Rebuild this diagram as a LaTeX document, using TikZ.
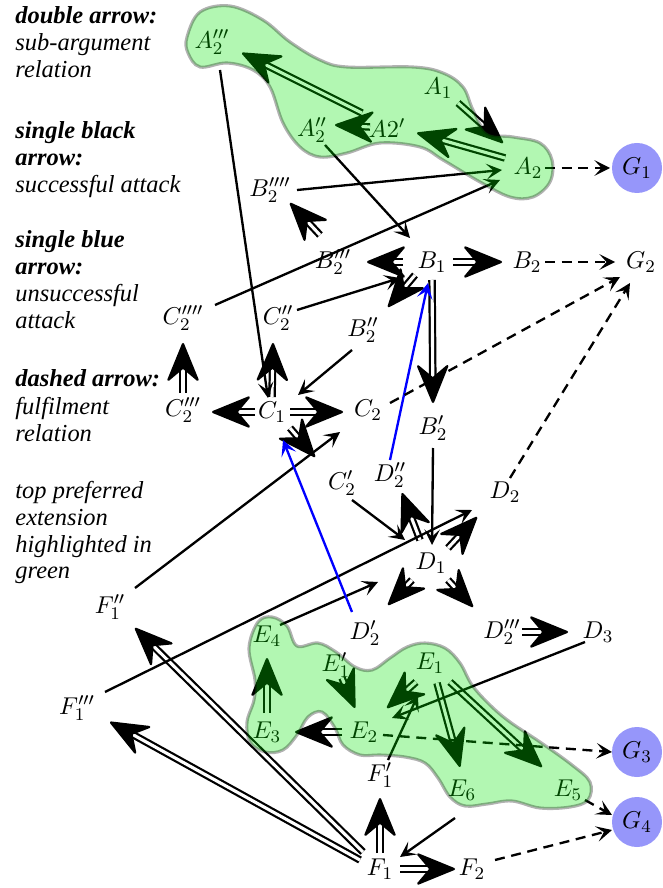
\documentclass[tikz,border=0pt]{standalone}
\usepackage{fontspec}
\newfontfamily\legfont{Liberation Serif}
\usetikzlibrary{arrows.meta,calc}
\definecolor{gcirc}{RGB}{150,150,250}
\definecolor{extgreen}{RGB}{0,230,0}
\definecolor{failblue}{RGB}{0,0,255}
\tikzset{
  lab/.style={inner sep=1pt, font=\fontsize{11}{13}\selectfont},
  goal/.style={circle, fill=gcirc, minimum size=22.5pt, inner sep=0pt, font=\fontsize{11}{13}\selectfont},
  att/.style={line width=1.05pt, -{Stealth[length=7pt,width=7pt,inset=3.2pt]}},
  fail/.style={att, color=failblue},
  ful/.style={att, dash pattern=on 4.5pt off 3pt},
  sub/.style={double, line width=1pt, double distance=1.4pt, -{Stealth[length=19pt,width=15.5pt,inset=6.5pt,round]}},
  ext/.style={fill=extgreen, fill opacity=0.3, draw=black, draw opacity=0.3, line width=1.4pt},
  leg/.style={font=\legfont\fontsize{11}{12}\selectfont\itshape, inner sep=0pt, anchor=base west},
}
\newcommand\conn[5]{\draw[#1] ($(#2)+(#3)$) -- ($(#4)+(#5)$);}
\begin{document}
\begin{tikzpicture}[x=0.45pt,y=-0.45pt]
\useasboundingbox (0,0) rectangle (663,888);
% legend
\node[leg] (leg1) at (15,24) {\bfseries double arrow:};
\node[leg] (leg2) at (15,51) {sub-argument};
\node[leg] (leg3) at (15,78) {relation};
\node[leg] (leg4) at (15,139) {\bfseries single black};
\node[leg] (leg5) at (15,166) {\bfseries arrow:};
\node[leg] (leg6) at (15,193) {successful attack};
\node[leg] (leg7) at (15,248) {\bfseries single blue};
\node[leg] (leg8) at (15,275) {\bfseries arrow:};
\node[leg] (leg9) at (15,302) {unsuccessful};
\node[leg] (leg10) at (15,329) {attack};
\node[leg] (leg11) at (15,387) {\bfseries dashed arrow:};
\node[leg] (leg12) at (15,414) {fulfilment};
\node[leg] (leg13) at (15,441) {relation};
\node[leg] (leg14) at (15,498) {top preferred};
\node[leg] (leg15) at (15,525) {extension};
\node[leg] (leg16) at (15,552) {highlighted in};
\node[leg] (leg17) at (15,578) {green};
% nodes
\node[lab] (A2ppp) at (212,42) {$A_2'''$};
\node[lab] (A1) at (438,88) {$A_1$};
\node[lab] (A2pp) at (312,130) {$A_2''$};
\node[lab] (A2p) at (387,128) {$A2'$};
\node[lab] (A2) at (528,168) {$A_2$};
\node[goal] (G1) at (637,168) {$G_1$};
\node[lab] (B2pppp) at (270,190) {$B_2''''$};
\node[lab] (B2ppp) at (333,262) {$B_2'''$};
\node[lab] (B1) at (432,262) {$B_1$};
\node[lab] (B2) at (527,262) {$B_2$};
\node[lab] (G2) at (641,262) {$G_2$};
\node[lab] (C2pppp) at (183,318) {$C_2''''$};
\node[lab] (C2pp) at (278,318) {$C_2''$};
\node[lab] (B2pp) at (363,330) {$B_2''$};
\node[lab] (C2ppp) at (183,410) {$C_2'''$};
\node[lab] (C1) at (272,412) {$C_1$};
\node[lab] (C2) at (368,410) {$C_2$};
\node[lab] (B2p) at (433,428) {$B_2'$};
\node[lab] (D2pp) at (390,475) {$D_2''$};
\node[lab] (C2p) at (342,483) {$C_2'$};
\node[lab] (D2) at (505,492) {$D_2$};
\node[lab] (D1) at (431,563) {$D_1$};
\node[lab] (F1pp) at (110,607) {$F_1''$};
\node[lab] (D2p) at (365,633) {$D_2'$};
\node[lab] (D2ppp) at (502,632) {$D_2'''$};
\node[lab] (D3) at (598,632) {$D_3$};
\node[lab] (E4) at (267,636) {$E_4$};
\node[lab] (E1p) at (336,665) {$E_1'$};
\node[lab] (E1) at (430,663) {$E_1$};
\node[lab] (F1ppp) at (77,708) {$F_1'''$};
\node[lab] (E3) at (267,732) {$E_3$};
\node[lab] (E2) at (364,732) {$E_2$};
\node[lab] (F1p) at (380,775) {$F_1'$};
\node[lab] (E6) at (462,790) {$E_6$};
\node[lab] (E5) at (568,790) {$E_5$};
\node[goal] (G3) at (637,752) {$G_3$};
\node[goal] (G4) at (637,822) {$G_4$};
\node[lab] (F1) at (380,869) {$F_1$};
\node[lab] (F2) at (472,869) {$F_2$};
% sub-argument relations
\conn{sub}{A2p}{-25,-15}{A2ppp}{30,11}
\conn{sub}{A2p}{-17,-1}{A2pp}{23,-5}
\conn{sub}{A2}{-23,-10}{A2p}{30,5}
\conn{sub}{A1}{20,15}{A2}{-25,-25}
\conn{sub}{B2ppp}{-13,-27}{B2pppp}{20,13}
\conn{sub}{B1}{-29,0}{B2ppp}{34,0}
\conn{sub}{B1}{-17,13}{B2pp}{25,-23}
\conn{sub}{B1}{21,0}{B2}{-25,0}
\conn{sub}{B1}{0,18}{B2p}{0,-25}
\conn{sub}{C2ppp}{0,-17}{C2pppp}{0,25}
\conn{sub}{C1}{-17,0}{C2ppp}{29,2}
\conn{sub}{C1}{18,0}{C2}{-25,2}
\conn{sub}{C1}{0,-15}{C2pp}{-5,25}
\conn{sub}{C1}{18,16}{C2p}{-27,-26}
\conn{sub}{D1}{-11,-23}{D2pp}{12,18}
\conn{sub}{D1}{17,-15}{D2}{-28,25}
\conn{sub}{D1}{-19,17}{D2p}{23,-28}
\conn{sub}{D1}{17,17}{D2ppp}{-29,-25}
\conn{sub}{D2ppp}{20,0}{D3}{-30,0}
\conn{sub}{E1}{-14,19}{E2}{23,-24}
\conn{sub}{E1p}{6,13}{E2}{-9,-24}
\conn{sub}{E2}{-22,0}{E3}{28,0}
\conn{sub}{E3}{0,-19}{E4}{0,22}
\conn{sub}{E1}{7,20}{E6}{-2,-23}
\conn{sub}{E1}{20,19}{E5}{-26,-23}
\conn{sub}{F1}{0,-16}{F1p}{0,23}
\conn{sub}{F1}{20,0}{F2}{-17,0}
\conn{sub}{F1}{-17,-17}{F1pp}{25,21}
\conn{sub}{F1}{-20,-9}{F1ppp}{33,14}
% successful attacks
\conn{att}{A2ppp}{8,28}{C1}{-4,-14}
\conn{att}{A2pp}{13,15}{B1}{-22,-24}
\conn{att}{B2pppp}{27,0}{A2}{-26,2}
\conn{att}{C2pppp}{32,-13}{A2}{-28,12}
\conn{att}{C2pp}{19,-8}{B1}{-32,16}
\conn{att}{B2pp}{-11,20}{C1}{26,-17}
\conn{att}{F1pp}{25,-19}{C2}{-28,22}
\conn{att}{C2p}{10,17}{D1}{-26,-23}
\conn{att}{B2p}{0,20}{D1}{1,-18}
\conn{att}{F1ppp}{28,-16}{D2}{-33,18}
\conn{att}{E4}{13,-11}{D1}{-53,19}
\conn{att}{D3}{-13,10}{E2}{28,-14}
\conn{att}{F1p}{8,-15}{E1}{-12,32}
\conn{att}{E6}{-7,28}{F1}{20,-12}
% unsuccessful attacks
\conn{fail}{D2pp}{0,-15}{B1}{-4,21}
\conn{fail}{D2p}{-13,-21}{C1}{11,28}
% fulfilment
\conn{ful}{A2}{17,0}{G1}{-27,0}
\conn{ful}{B2}{18,0}{G2}{-26,0}
\conn{ful}{C2}{22,-7}{G2}{-21,15}
\conn{ful}{D2}{5,-14}{G2}{-11,21}
\conn{ful}{E2}{19,3}{G3}{-25,0}
\conn{ful}{E5}{17,10}{G4}{-25,-7}
\conn{ful}{F2}{23,-9}{G4}{-25,8}
% preferred extension highlight
\draw[ext] plot[smooth cycle, tension=0.6] coordinates {(187,37) (200,12) (230,6) (263,20) (290,42) (320,60) (347,67) (413,67) (443,73) (463,87) (473,110) (487,133) (513,137) (540,143) (552,160) (550,182) (533,197) (510,197) (480,182) (443,160) (420,147) (380,143) (347,153) (320,157) (300,147) (283,123) (270,87) (253,70) (227,63) (200,67) (188,53)};
\draw[ext] plot[smooth cycle, tension=0.6] coordinates {(249,648) (258,622) (272,617) (287,626) (297,646) (318,643) (336,652) (355,667) (372,670) (390,658) (407,647) (425,643) (445,648) (460,663) (472,685) (490,705) (510,722) (540,742) (572,765) (590,782) (588,800) (570,807) (540,808) (512,801) (487,804) (465,806) (450,797) (438,778) (425,763) (405,757) (380,755) (360,755) (343,745) (335,728) (322,712) (308,717) (297,735) (283,750) (265,752) (250,742) (247,722) (254,700) (255,680)};
\end{tikzpicture}
\end{document}
